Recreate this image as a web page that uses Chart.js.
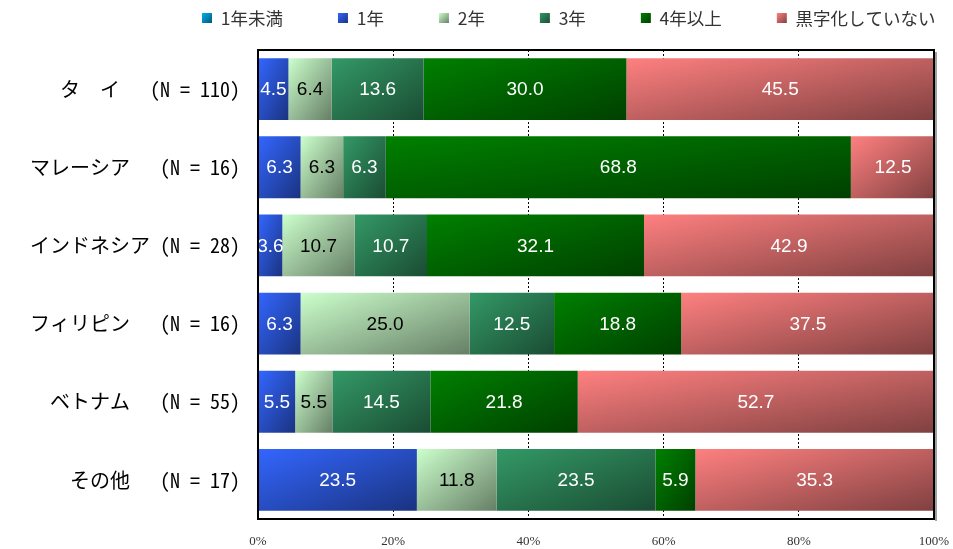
<!DOCTYPE html>
<html>
<head>
<meta charset="utf-8">
<script src="https://cdn.jsdelivr.net/npm/chart.js@4.4.1/dist/chart.umd.min.js"></script>
<style>
  html, body { margin: 0; padding: 0; background: #fff; }
  #wrap { width: 953px; height: 549px; position: relative; }
</style>
</head>
<body>
<div id="wrap"><canvas id="chart"></canvas></div>
<script>
// Survey groups (rows, top to bottom)
const categories = [
  'タ　イ　 (N = 110)',
  'マレーシア　 (N = 16)',
  'インドネシア (N = 28)',
  'フィリピン　 (N = 16)',
  'ベトナム　 (N = 55)',
  'その他　 (N = 17)'
];
// Series names (legend order)
const seriesNames = ['1年未満', '1年', '2年', '3年', '4年以上', '黒字化していない'];
// Share of respondents, %
const underOneYear  = [0, 0, 0, 0, 0, 0];
const oneYear       = [4.5, 6.3, 3.6, 6.3, 5.5, 23.5];
const twoYears      = [6.4, 6.3, 10.7, 25.0, 5.5, 11.8];
const threeYears    = [13.6, 6.3, 10.7, 12.5, 14.5, 23.5];
const fourPlusYears = [30.0, 68.8, 32.1, 18.8, 21.8, 5.9];
const notProfitable = [45.5, 12.5, 42.9, 37.5, 52.7, 35.3];
// Axis tick labels
const xTickLabels = ['0%', '20%', '40%', '60%', '80%', '100%'];

const seriesValues = [underOneYear, oneYear, twoYears, threeYears, fourPlusYears, notProfitable];
// Each fill runs from a light colour (top-left) to a darker one (bottom-right)
const lightColors = ['#00b0f0', '#3366ff', '#ccffcc', '#339966', '#008000', '#ff8080'];
const darkColors  = ['#005878', '#1a3380', '#667f66', '#1a4c33', '#004000', '#804040'];
const labelColors = ['#ffffff', '#ffffff', '#000000', '#ffffff', '#ffffff', '#ffffff'];

const JP_FONT = "'Noto Sans Mono CJK JP', 'Noto Sans CJK JP', sans-serif";

// Diagonal gradient where the top-right and bottom-left corners share the mid colour
function diagGradient(ctx, x, y, w, h, c0, c1) {
  const k = (2 * w * h) / (w * w + h * h);
  const g = ctx.createLinearGradient(x, y, x + h * k, y + w * k);
  g.addColorStop(0, c0);
  g.addColorStop(1, c1);
  return g;
}

const gradientFills = {
  id: 'gradientFills',
  beforeDatasetsDraw(chart) {
    const ctx = chart.ctx;
    chart.data.datasets.forEach((ds, di) => {
      const meta = chart.getDatasetMeta(di);
      meta.data.forEach(el => {
        const left = Math.min(el.x, el.base);
        const w = Math.abs(el.x - el.base);
        const h = el.height;
        const top = el.y - h / 2;
        if (w > 0 && h > 0) {
          el.options.backgroundColor = diagGradient(ctx, left, top, w, h, lightColors[di], darkColors[di]);
        }
      });
    });
  }
};

const valueLabels = {
  id: 'valueLabels',
  afterDatasetsDraw(chart) {
    const ctx = chart.ctx;
    ctx.save();
    ctx.font = "19px 'Liberation Sans', Arial, sans-serif";
    ctx.textAlign = 'center';
    ctx.textBaseline = 'middle';
    chart.data.datasets.forEach((ds, di) => {
      const meta = chart.getDatasetMeta(di);
      meta.data.forEach((el, i) => {
        const v = ds.data[i];
        if (!v) return;
        ctx.fillStyle = labelColors[di];
        ctx.fillText(v.toFixed(1), (el.x + el.base) / 2, el.y + 1);
      });
    });
    ctx.restore();
  }
};

const plotFrame = {
  id: 'plotFrame',
  afterDatasetsDraw(chart) {
    const { left, right, top, bottom } = chart.chartArea;
    const ctx = chart.ctx;
    ctx.save();
    ctx.strokeStyle = '#a0a0a0';
    ctx.lineWidth = 2;
    ctx.beginPath();
    ctx.moveTo(right + 2, top + 2);
    ctx.lineTo(right + 2, bottom + 2);
    ctx.stroke();
    ctx.strokeStyle = '#000';
    ctx.lineWidth = 2;
    ctx.strokeRect(left, top, right - left, bottom - top);
    ctx.restore();
  }
};

// Legend: keep the wide item spacing but place the row at the top
const legendPlacement = {
  id: 'legendPlacement',
  afterInit(chart) {
    const lg = chart.legend;
    const origFit = lg.fit;
    lg.fit = function () {
      origFit.call(this);
      this.height = 50;
    };
    const origInnerDraw = lg._draw;
    lg._draw = function () {
      const pad = this.options.labels.padding;
      const fs = this.options.labels.font.size;
      const box = this.options.labels.boxWidth;
      const dx = 202 - (this.left + pad);
      const dy = 18 - (this.top + pad + fs / 2);
      // gradient swatches, defined in the untranslated space of the hit boxes
      this.legendItems.forEach((item, i) => {
        const hb = this.legendHitBoxes[i];
        if (!hb) return;
        const top = hb.top + Math.max((fs - box) / 2, 0);
        item.fillStyle = diagGradient(this.ctx, hb.left, top, box, box, lightColors[i], darkColors[i]);
      });
      this.ctx.save();
      this.ctx.translate(dx, dy);
      origInnerDraw.call(this);
      this.ctx.restore();
    };
  }
};

new Chart(document.getElementById('chart'), {
  type: 'bar',
  data: {
    labels: categories,
    datasets: seriesNames.map((name, i) => ({
      label: name,
      data: seriesValues[i],
      backgroundColor: (c) => lightColors[c.datasetIndex],
      borderWidth: 0,
      categoryPercentage: 1,
      barPercentage: 0.79
    }))
  },
  options: {
    indexAxis: 'y',
    responsive: true,
    maintainAspectRatio: false,
    animation: false,
    events: [],
    layout: { padding: { left: 0, right: 19, top: 0, bottom: 0 } },
    scales: {
      x: {
        stacked: true,
        min: 0,
        max: 100,
        afterFit(s) { s.height = 27; s.paddingRight = 0; s.paddingLeft = 0; },
        ticks: {
          stepSize: 20,
          padding: 15,
          color: '#333',
          font: { family: "'Liberation Serif', 'DejaVu Serif', serif", size: 13 },
          callback: (v, i) => xTickLabels[i]
        },
        grid: {
          drawTicks: false,
          color: (c) => (c.tick && (c.tick.value === 0 || c.tick.value === 100)) ? 'rgba(0,0,0,0)' : '#000',
          lineWidth: 1
        },
        border: { display: false, dash: [2, 2] }
      },
      y: {
        stacked: true,
        afterFit(s) { s.width = 258; },
        ticks: {
          padding: 18,
          color: '#000',
          font: { family: JP_FONT, size: 20 }
        },
        grid: { display: false, drawTicks: false },
        border: { display: false }
      }
    },
    plugins: {
      legend: {
        position: 'top',
        align: 'start',
        labels: {
          boxWidth: 10,
          boxHeight: 10,
          padding: 55,
          color: '#333',
          font: { family: "'Noto Sans CJK JP', sans-serif", size: 17.5 },
          generateLabels: () => seriesNames.map((n, i) => ({
            text: n, fillStyle: lightColors[i], strokeStyle: 'rgba(0,0,0,0)',
            lineWidth: 0, hidden: false, datasetIndex: i, fontColor: '#333'
          }))
        }
      },
      tooltip: { enabled: false }
    }
  },
  plugins: [gradientFills, valueLabels, plotFrame, legendPlacement]
});
</script>
</body>
</html>
